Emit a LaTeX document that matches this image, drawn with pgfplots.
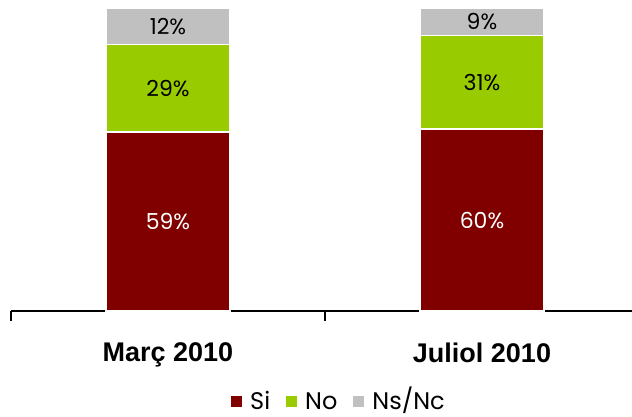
\documentclass[border=0pt]{standalone}
\usepackage{pgfplots}
\pgfplotsset{compat=1.18}
\usepackage{fontspec}
\setmainfont{Poppins}
\newfontfamily\catfont{Liberation Sans}
\definecolor{siC}{HTML}{800000}
\definecolor{noC}{HTML}{99CC00}
\definecolor{nsC}{HTML}{C0C0C0}
\begin{document}
\begin{tikzpicture}
\useasboundingbox (0,0) rectangle (632bp,417bp);
\begin{axis}[
  at={(11bp,106bp)}, anchor=south west,
  scale only axis, width=628bp, height=303bp,
  xmin=0, xmax=2, ymin=0, ymax=100,
  ybar stacked, bar width=124bp,
  axis x line=bottom, axis y line=none,
  axis line style={-, black, line width=1.3bp},
  xtick={0,1,2}, xticklabels={,,}, tick align=outside, major tick length=10bp,
  tick style={black, line width=1.3bp},
  extra x ticks={0.5,1.5}, extra x tick labels={Març 2010, Juliol 2010},
  extra x tick style={major tick length=0pt, tick style={draw=none},
    tick label style={font={\catfont\bfseries\fontsize{27bp}{30bp}\selectfont}, yshift=-28bp}},
  legend style={at={(0.527,-0.300)}, anchor=center, draw=none, legend columns=-1,
    inner sep=0pt, outer sep=0pt,
    font={\fontsize{24bp}{26bp}\selectfont},
    nodes={inner sep=0pt, inner xsep=8bp, text height=17bp, text depth=2bp},
    /tikz/every even column/.append style={column sep=8bp}},
  legend image code/.code={\path[#1,draw=none] (0bp,-5.5bp) rectangle (11bp,5.5bp);},
  clip=false,
]
\addplot[fill=siC, draw=white, line width=1.5bp] coordinates {(0.5,59) (1.5,60)};
\addplot[fill=noC, draw=white, line width=1.5bp] coordinates {(0.5,29) (1.5,31)};
\addplot[fill=nsC, draw=white, line width=1.5bp] coordinates {(0.5,12) (1.5,9)};
\legend{Si, No, Ns/Nc}
\end{axis}
\begin{axis}[
  at={(11bp,106bp)}, anchor=south west,
  scale only axis, width=628bp, height=303bp,
  xmin=0, xmax=2, ymin=0, ymax=100,
  hide axis, clip=false,
  /pgf/number format/assume math mode=true,
  nodes near coords={\pgfmathprintnumber{\pgfplotspointmeta}\%},
  point meta=explicit,
  every node near coord/.append style={anchor=center, font={\fontsize{22bp}{24bp}\selectfont}},
]
\addplot[draw=none, mark=none, every node near coord/.append style={text=white}] coordinates {(0.5,29.5) [59] (1.5,30) [60]};
\addplot[draw=none, mark=none, every node near coord/.append style={text=black}] coordinates {(0.5,73.5) [29] (1.5,75.5) [31]};
\addplot[draw=none, mark=none, every node near coord/.append style={text=black}] coordinates {(0.5,94) [12] (1.5,95.5) [9]};
\end{axis}
\end{tikzpicture}
\end{document}
